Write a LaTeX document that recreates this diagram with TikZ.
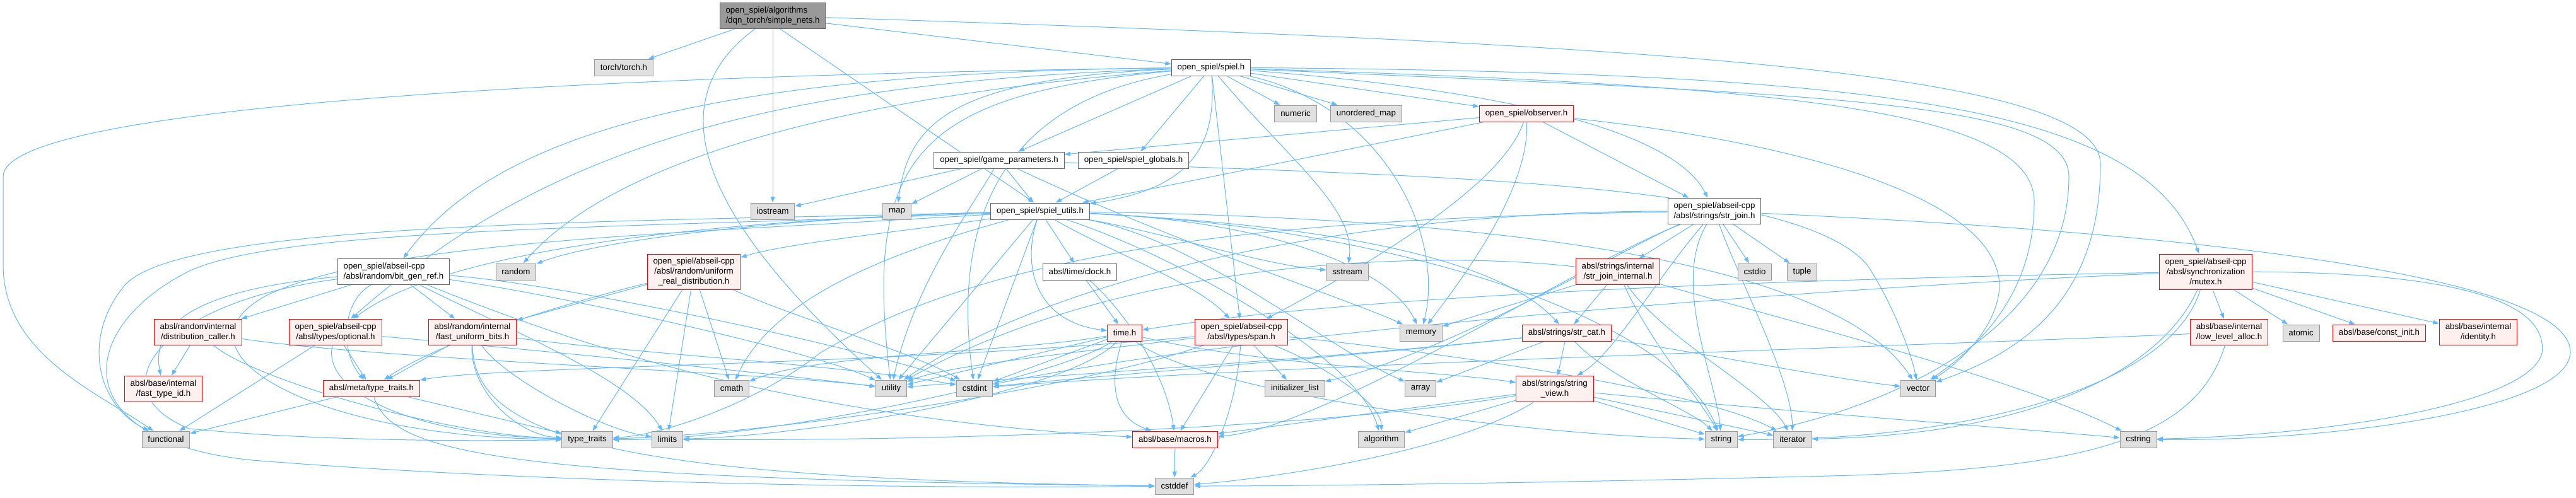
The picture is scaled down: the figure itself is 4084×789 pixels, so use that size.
\documentclass[tikz,border=0pt]{standalone}
\usepackage{fontspec}
\setmainfont{Liberation Sans}
\usetikzlibrary{arrows.meta}
\pgfdeclarelayer{background}
\pgfsetlayers{background,main}

\definecolor{edgeblue}{RGB}{99,184,255}
\definecolor{sysfill}{HTML}{E0E0E0}
\definecolor{sysline}{HTML}{999999}
\definecolor{plainline}{HTML}{666666}
\definecolor{truncfill}{HTML}{FFF0F0}
\definecolor{mainfill}{HTML}{999999}

\tikzset{
  box/.style={draw,rectangle,inner xsep=7pt,inner ysep=2pt,minimum height=19.5pt,
    line width=0.75pt,font=\fontsize{10}{12}\selectfont,align=center},
  sysnode/.style={box,fill=sysfill,draw=sysline},
  plainnode/.style={box,fill=white,draw=plainline},
  truncnode/.style={box,fill=truncfill,draw=red},
  mainnode/.style={box,fill=mainfill,draw=plainline},
  twoline/.style={minimum height=31pt},
  threeline/.style={minimum height=42pt},
  dep/.style={draw=edgeblue,line width=0.75pt,-{Triangle[length=7pt,width=5pt]}},
}

\begin{document}
\begin{tikzpicture}[x=0.75pt,y=-0.75pt]
  \useasboundingbox (0,0) rectangle (4084,789);

  % top rows
  \node[mainnode,twoline,align=left] (main) at (1225,25) {open\_spiel/algorithms\\/dqn\_torch/simple\_nets.h};
  \node[sysnode] (torch) at (989,107) {torch/torch.h};
  \node[plainnode] (spiel) at (1920,107) {open\_spiel/spiel.h};
  \node[sysnode] (numeric) at (2054,180) {numeric};
  \node[sysnode] (umap) at (2166,180) {unordered\_map};
  \node[truncnode] (observer) at (2420,180) {open\_spiel/observer.h};
  \node[plainnode] (gameparams) at (1584,254) {open\_spiel/game\_parameters.h};
  \node[plainnode] (globals) at (1797,254) {open\_spiel/spiel\_globals.h};
  \node[sysnode] (iostream) at (1225,335) {iostream};
  \node[sysnode] (map) at (1422,335) {map};
  \node[plainnode] (utils) at (1649,335) {open\_spiel/spiel\_utils.h};
  \node[plainnode,twoline,align=left] (strjoin) at (2718,335) {open\_spiel/abseil-cpp\\/absl/strings/str\_join.h};

  % middle rows
  \node[plainnode,twoline,align=left] (bitgen) at (624,431) {open\_spiel/abseil-cpp\\/absl/random/bit\_gen\_ref.h};
  \node[sysnode] (random) at (818,431) {random};
  \node[truncnode,threeline] (uniformreal) at (1100,431) {open\_spiel/abseil-cpp\\/absl/random/uniform\\\_real\_distribution.h};
  \node[plainnode] (clock) at (1712,431) {absl/time/clock.h};
  \node[sysnode] (sstream) at (2136,431) {sstream};
  \node[truncnode,twoline] (strjoinint) at (2565,431) {absl/strings/internal\\/str\_join\_internal.h};
  \node[sysnode] (cstdio) at (2782,431) {cstdio};
  \node[sysnode] (tuple) at (2857,431) {tuple};
  \node[truncnode,threeline] (mutex) at (3497,431) {open\_spiel/abseil-cpp\\/absl/synchronization\\/mutex.h};

  \node[truncnode,twoline] (distcaller) at (314,527) {absl/random/internal\\/distribution\_caller.h};
  \node[truncnode,twoline] (optional) at (532,527) {open\_spiel/abseil-cpp\\/absl/types/optional.h};
  \node[truncnode,twoline] (fastbits) at (749,527) {absl/random/internal\\/fast\_uniform\_bits.h};
  \node[truncnode] (timeh) at (1783,528) {time.h};
  \node[truncnode,twoline] (span) at (1968,527) {open\_spiel/abseil-cpp\\/absl/types/span.h};
  \node[sysnode] (memory) at (2253,528) {memory};
  \node[truncnode] (strcat) at (2484,528) {absl/strings/str\_cat.h};
  \node[truncnode,twoline] (lowalloc) at (3534,527) {absl/base/internal\\/low\_level\_alloc.h};
  \node[sysnode] (atomic) at (3648,528) {atomic};
  \node[truncnode] (constinit) at (3772,528) {absl/base/const\_init.h};
  \node[truncnode,twoline] (identity) at (3929,527) {absl/base/internal\\/identity.h};

  % lower rows
  \node[truncnode,twoline] (fasttypeid) at (259,617) {absl/base/internal\\/fast\_type\_id.h};
  \node[truncnode] (metatt) at (589,616) {absl/meta/type\_traits.h};
  \node[sysnode] (cmath) at (1160,616) {cmath};
  \node[sysnode] (utility) at (1413,616) {utility};
  \node[sysnode] (cstdint) at (1545,616) {cstdint};
  \node[sysnode] (initlist) at (2053,616) {initializer\_list};
  \node[sysnode] (array) at (2252,616) {array};
  \node[truncnode,twoline] (strview) at (2465,617) {absl/strings/string\\\_view.h};
  \node[sysnode] (vector) at (3041,616) {vector};

  \node[sysnode] (functional) at (263,697) {functional};
  \node[sysnode] (typetraits) at (931,697) {type\_traits};
  \node[sysnode] (limits) at (1058,697) {limits};
  \node[truncnode] (macros) at (1863,697) {absl/base/macros.h};
  \node[sysnode] (algorithm) at (2190,697) {algorithm};
  \node[sysnode] (string) at (2729,697) {string};
  \node[sysnode] (iterator) at (2842,697) {iterator};
  \node[sysnode] (cstring) at (3390,697) {cstring};
  \node[sysnode] (cstddef) at (1862,771) {cstddef};

  \begin{pgfonlayer}{background}
  \fill[white] (0,0) rectangle (4084,789);
  % simple_nets.h
  \draw[dep] (main) -- (torch);
  \draw[dep] (main) -- (iostream);
  \draw[dep] (main.-8) -- (spiel.175);
  \draw[dep] (main.-60) -- (utils.125);
  \draw[dep] (main) .. controls (1070,140) and (1060,300) .. (utility);
  \draw[dep] (main) .. controls (2600,70) and (3330,110) .. (3330,260) .. controls (3330,480) and (3200,560) .. (vector);

  % spiel.h
  \draw[dep] (spiel) -- (numeric);
  \draw[dep] (spiel) -- (umap);
  \draw[dep] (spiel) -- (observer);
  \draw[dep] (spiel) -- (gameparams);
  \draw[dep] (spiel) -- (globals);
  \draw[dep] (spiel) .. controls (1930,240) and (1880,300) .. (utils);
  \draw[dep] (spiel) -- (span);
  \draw[dep] (spiel) .. controls (1500,125) and (1440,200) .. (map);
  \draw[dep] (spiel) .. controls (900,120) and (5,170) .. (5,280) -- (5,420) .. controls (5,560) and (150,620) .. (functional);
  \draw[dep] (spiel) .. controls (1200,115) and (800,190) .. (bitgen);
  \draw[dep] (spiel) .. controls (1250,130) and (880,220) .. (optional);
  \draw[dep] (spiel) .. controls (1250,160) and (950,280) .. (random);
  \draw[dep] (spiel) .. controls (1450,150) and (1370,250) .. (utility);
  \draw[dep] (spiel) .. controls (1550,170) and (1515,400) .. (cstdint);
  \draw[dep] (spiel) .. controls (2200,170) and (2290,380) .. (memory);
  \draw[dep] (spiel) .. controls (2040,250) and (2150,330) .. (sstream);
  \draw[dep] (spiel) .. controls (2350,140) and (2650,200) .. (strjoin);
  \draw[dep] (spiel) .. controls (3000,115) and (3400,170) .. (mutex);
  \draw[dep] (spiel) .. controls (2900,150) and (3280,160) .. (3280,280) .. controls (3280,520) and (3000,650) .. (string);
  \draw[dep] (spiel) .. controls (2800,135) and (3225,170) .. (3225,320) .. controls (3225,480) and (3120,560) .. (vector);

  % observer.h
  \draw[dep] (observer) -- (gameparams);
  \draw[dep] (observer) -- (utils);
  \draw[dep] (observer) -- (strjoin);
  \draw[dep] (observer) .. controls (2380,300) and (2150,430) .. (span);
  \draw[dep] (observer) .. controls (2425,300) and (2320,440) .. (memory);
  \draw[dep] (observer) .. controls (2800,220) and (3160,300) .. (3170,450) .. controls (3170,520) and (3100,580) .. (vector);

  % game_parameters.h
  \draw[dep] (gameparams) -- (map);
  \draw[dep] (gameparams) -- (utils);
  \draw[dep] (gameparams) -- (iostream);
  \draw[dep] (gameparams) .. controls (1540,330) and (1450,450) .. (utility);
  \draw[dep] (gameparams) .. controls (1850,380) and (2150,480) .. (memory);
  \draw[dep] (gameparams) .. controls (2300,280) and (2850,290) .. (2960,420) .. controls (3000,480) and (3030,560) .. (vector);
  \draw[dep] (globals) -- (utils);

  % spiel_utils.h
  \draw[dep] (utils) -- (clock);
  \draw[dep] (utils) .. controls (1620,420) and (1640,510) .. (timeh);
  \draw[dep] (utils) .. controls (1760,400) and (1900,450) .. (span);
  \draw[dep] (utils) -- (utility);
  \draw[dep] (utils) -- (cstdint);
  \draw[dep] (utils) .. controls (1000,352) and (300,350) .. (200,450) .. controls (130,530) and (150,640) .. (functional);
  \draw[dep] (utils) .. controls (1000,362) and (450,360) .. (300,430) .. controls (120,520) and (100,700) .. (400,730) .. controls (900,770) and (1500,775) .. (cstddef);
  \draw[dep] (utils) .. controls (1100,370) and (600,380) .. (420,470) .. controls (260,560) and (500,695) .. (typetraits);
  \draw[dep] (utils) .. controls (1250,345) and (950,380) .. (random);
  \draw[dep] (utils) .. controls (1450,390) and (1230,460) .. (cmath);
  \draw[dep] (utils) .. controls (1100,350) and (700,400) .. (optional);
  \draw[dep] (utils) .. controls (1450,365) and (1250,385) .. (uniformreal);
  \draw[dep] (utils) .. controls (1850,370) and (2000,420) .. (sstream);
  \draw[dep] (utils) .. controls (1950,350) and (2350,380) .. (strcat);
  \draw[dep] (utils) .. controls (1900,380) and (2100,550) .. (array);
  \draw[dep] (utils) .. controls (1850,400) and (2150,560) .. (algorithm);
  \draw[dep] (utils) .. controls (2000,350) and (2200,420) .. (memory);
  \draw[dep] (utils) .. controls (2200,360) and (2650,500) .. (string);
  \draw[dep] (utils) .. controls (2300,345) and (2900,400) .. (vector);

  % clock.h and time.h
  \draw[dep] (clock) -- (timeh);
  \draw[dep] (clock) .. controls (1790,500) and (1850,600) .. (macros);
  \draw[dep] (timeh) -- (utility);
  \draw[dep] (timeh) -- (cstdint);
  \draw[dep] (timeh) .. controls (1600,560) and (1300,560) .. (cmath);
  \draw[dep] (timeh) .. controls (1700,620) and (1300,690) .. (limits);
  \draw[dep] (timeh) .. controls (1680,600) and (1200,700) .. (typetraits);
  \draw[dep] (timeh) .. controls (1760,600) and (1760,660) .. (macros);
  \draw[dep] (timeh) .. controls (1900,620) and (2400,690) .. (string);
  \draw[dep] (timeh) .. controls (2000,580) and (2300,590) .. (strview);

  % span.h
  \draw[dep] (span) -- (initlist);
  \draw[dep] (span) -- (macros);
  \draw[dep] (span) .. controls (1960,650) and (1920,740) .. (cstddef);
  \draw[dep] (span) .. controls (2100,580) and (2190,640) .. (algorithm);
  \draw[dep] (span) .. controls (1700,560) and (1500,580) .. (utility);
  \draw[dep] (span) .. controls (1400,580) and (800,580) .. (metatt);
  \draw[dep] (span) .. controls (1700,620) and (1200,690) .. (typetraits);
  \draw[dep] (span) .. controls (2300,560) and (2700,620) .. (iterator);

  % str_join.h
  \draw[dep] (strjoin) -- (strjoinint);
  \draw[dep] (strjoin) -- (cstdio);
  \draw[dep] (strjoin) -- (tuple);
  \draw[dep] (strjoin) .. controls (2650,450) and (2720,600) .. (string);
  \draw[dep] (strjoin) .. controls (2760,450) and (2840,600) .. (iterator);
  \draw[dep] (strjoin) .. controls (2620,450) and (2560,560) .. (strview);
  \draw[dep] (strjoin) .. controls (2600,380) and (2300,560) .. (initlist);
  \draw[dep] (strjoin) .. controls (2200,335) and (1700,420) .. (utility);
  \draw[dep] (strjoin) .. controls (2100,345) and (1600,380) .. (1300,560) .. controls (1200,640) and (1050,690) .. (typetraits);
  \draw[dep] (strjoin) .. controls (2500,420) and (2100,680) .. (macros);
  \draw[dep] (strjoin) .. controls (3500,370) and (4080,440) .. (4075,560) .. controls (4070,650) and (3700,700) .. (cstring);

  % str_join_internal.h, str_cat.h, string_view.h
  \draw[dep] (strjoinint) -- (strcat);
  \draw[dep] (strjoinint) -- (memory);
  \draw[dep] (strjoinint) .. controls (2620,550) and (2700,640) .. (string);
  \draw[dep] (strjoinint) .. controls (2640,540) and (2800,620) .. (iterator);
  \draw[dep] (strjoinint) .. controls (2800,500) and (3200,600) .. (cstring);
  \draw[dep] (strjoinint) .. controls (2300,400) and (1800,400) .. (utility);
  \draw[dep] (strcat) -- (array);
  \draw[dep] (strcat) -- (strview);
  \draw[dep] (strcat) .. controls (2550,600) and (2680,650) .. (string);
  \draw[dep] (strcat) .. controls (2700,560) and (2900,600) .. (vector);
  \draw[dep] (strcat) .. controls (2200,560) and (1700,600) .. (cstdint);
  \draw[dep] (strcat) .. controls (2100,570) and (1600,600) .. (utility);
  \draw[dep] (strview) -- (algorithm);
  \draw[dep] (strview) -- (macros);
  \draw[dep] (strview) .. controls (2300,720) and (2000,760) .. (cstddef);
  \draw[dep] (strview) -- (string);
  \draw[dep] (strview) -- (iterator);
  \draw[dep] (strview) .. controls (2800,650) and (3200,680) .. (cstring);
  \draw[dep] (strview) .. controls (2100,680) and (1500,700) .. (limits);

  % mutex.h
  \foreach \tgt in {lowalloc,atomic,constinit,identity}
    \draw[dep] (mutex) -- (\tgt);
  \draw[dep] (mutex) .. controls (3900,432) and (4040,480) .. (4030,560) .. controls (4010,640) and (3700,690) .. (cstring);
  \draw[dep] (mutex) .. controls (3420,600) and (3200,690) .. (iterator);
  \draw[dep] (mutex) .. controls (3440,620) and (3100,700) .. (string);
  \draw[dep] (mutex) .. controls (3000,440) and (2200,460) .. (timeh);
  \draw[dep] (mutex) .. controls (3000,450) and (2000,520) .. (cstdint);
  \draw[dep] (lowalloc) .. controls (3480,700) and (3300,745) .. (2900,755) .. controls (2500,765) and (2100,771) .. (cstddef);
  \draw[dep] (lowalloc) .. controls (3000,550) and (2000,580) .. (cstdint);

  % random headers
  \draw[dep] (bitgen) -- (distcaller);
  \draw[dep] (bitgen) -- (fastbits);
  \draw[dep] (bitgen) .. controls (540,480) and (540,560) .. (metatt);
  \draw[dep] (bitgen) .. controls (300,460) and (240,520) .. (fasttypeid);
  \draw[dep] (bitgen) .. controls (250,480) and (150,620) .. (300,680) .. controls (500,700) and (750,700) .. (typetraits);
  \draw[dep] (bitgen) .. controls (800,520) and (1000,600) .. (limits);
  \draw[dep] (bitgen) .. controls (900,470) and (1300,560) .. (utility);
  \draw[dep] (bitgen) .. controls (900,450) and (1400,560) .. (cstdint);
  \draw[dep] (bitgen) .. controls (850,520) and (1200,660) .. (macros);
  \draw[dep] (distcaller) -- (fasttypeid);
  \draw[dep] (distcaller) .. controls (400,600) and (700,690) .. (typetraits);
  \draw[dep] (distcaller) .. controls (600,570) and (1200,590) .. (utility);
  \draw[dep] (optional) -- (metatt);
  \draw[dep] (optional) -- (functional);
  \draw[dep] (optional) .. controls (510,620) and (650,690) .. (typetraits);
  \draw[dep] (optional) .. controls (900,560) and (1200,590) .. (utility);
  \draw[dep] (fastbits) -- (metatt);
  \draw[dep] (fastbits) .. controls (745,620) and (820,690) .. (typetraits);
  \draw[dep] (fastbits) .. controls (800,600) and (950,680) .. (limits);
  \draw[dep] (fastbits) .. controls (750,700) and (1000,760) .. (cstddef);
  \draw[dep] (fastbits) .. controls (1000,560) and (1350,580) .. (cstdint);
  \draw[dep] (uniformreal) -- (fastbits);
  \draw[dep] (uniformreal) -- (cmath);
  \draw[dep] (uniformreal) -- (limits);
  \draw[dep] (uniformreal) -- (typetraits);
  \draw[dep] (uniformreal) .. controls (900,480) and (700,540) .. (metatt);
  \draw[dep] (uniformreal) .. controls (1250,500) and (1450,560) .. (cstdint);
  \draw[dep] (metatt) -- (functional);
  \draw[dep] (metatt) -- (typetraits);
  \draw[dep] (metatt) .. controls (620,720) and (800,760) .. (cstddef);
  \draw[dep] (macros) -- (cstddef);
  \end{pgfonlayer}
\end{tikzpicture}
\end{document}
